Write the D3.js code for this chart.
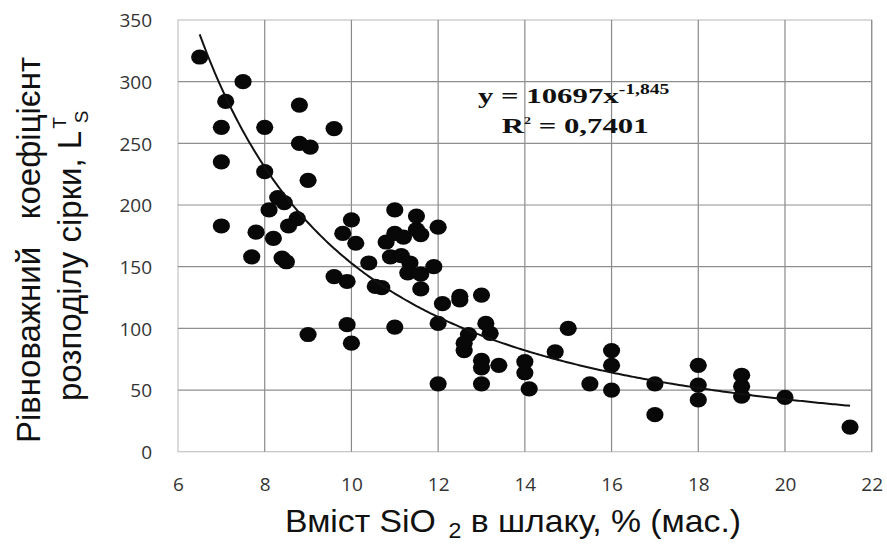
<!DOCTYPE html>
<html>
<head>
<meta charset="utf-8">
<script src="https://cdn.jsdelivr.net/npm/d3@7"></script>
<style>
  html, body { margin: 0; padding: 0; background: #fff; }
  svg { display: block; }
</style>
</head>
<body>
<svg id="chart" width="887" height="545"></svg>
<script>
// SiO2 content in slag, % (mass)
const sio2 = [
  6.5, 7.5, 7.1, 7.0, 8.0, 8.8, 9.6, 8.8, 9.05, 7.0,
  8.0, 9.0, 8.3, 8.45, 8.1, 8.75, 8.55, 7.0, 7.8, 8.2,
  7.7, 8.4, 8.5, 9.6, 9.9, 10.55, 10.7, 10.0, 9.8, 10.1,
  10.4, 11.0, 11.5, 12.0, 11.0, 11.2, 11.5, 11.6, 10.8, 10.9,
  11.15, 11.35, 11.3, 11.6, 11.9, 11.6, 12.1, 12.5, 12.5, 13.0,
  12.0, 13.1, 13.2, 12.7, 12.6, 12.6, 13.0, 13.0, 13.4, 12.0,
  13.0, 9.9, 10.0, 11.0, 9.0, 15.0, 14.7, 14.0, 14.0, 14.1,
  15.5, 16.0, 16.0, 16.0, 17.0, 17.0, 18.0, 18.0, 18.0, 19.0,
  19.0, 19.0, 20.0, 21.5
];
// Equilibrium sulphur distribution coefficient
const ls = [
  320, 300, 284, 263, 263, 281, 262, 250, 247, 235,
  227, 220, 206, 202, 196, 189, 183, 183, 178, 173,
  158, 157, 154, 142, 138, 134, 133, 188, 177, 169,
  153, 196, 191, 182, 177, 174, 180, 176, 170, 158,
  159, 153, 145, 144, 150, 132, 120, 126, 123, 127,
  104, 104, 96, 95, 88, 82, 74, 68, 70, 55,
  55, 103, 88, 101, 95, 100, 81, 73, 64, 51,
  55, 82, 70, 50, 55, 30, 70, 54, 42, 62,
  53, 45, 44, 20
];

const xTicks = [6, 8, 10, 12, 14, 16, 18, 20, 22];
const yTicks = [0, 50, 100, 150, 200, 250, 300, 350];

// power-law trend: y = a * x^b
const fitA = 10697;
const fitB = -1.845;
const fitR2 = "0,7401";
const fitRange = [6.5, 21.5];

const svg = d3.select("#chart");

const x = d3.scaleLinear().domain([6, 22]).range([178, 871.7]);
const y = d3.scaleLinear().domain([0, 350]).range([451.7, 20]);

// plot frame
svg.append("rect")
  .attr("x", x(6)).attr("y", y(350))
  .attr("width", x(22) - x(6)).attr("height", y(0) - y(350))
  .attr("fill", "none").attr("stroke", "#c4c4c4").attr("stroke-width", 1.2);

// grid lines
svg.append("g").selectAll("line").data(xTicks.filter(d => d > 6)).join("line")
  .attr("x1", d => x(d)).attr("x2", d => x(d))
  .attr("y1", y(350)).attr("y2", y(0))
  .attr("stroke", "#8a8a8a").attr("stroke-width", 1.2);
svg.append("g").selectAll("line").data(yTicks.filter(d => d > 0 && d < 350)).join("line")
  .attr("x1", x(6)).attr("x2", x(22))
  .attr("y1", d => y(d)).attr("y2", d => y(d))
  .attr("stroke", "#8f8f8f").attr("stroke-width", 1.2);

// axes (labels only)
const yAxis = svg.append("g").attr("transform", "translate(152,0)")
  .call(d3.axisLeft(y).tickValues(yTicks).tickSize(0).tickPadding(0));
yAxis.select(".domain").remove();
yAxis.selectAll("text")
  .attr("font-family", "'Open Sans', sans-serif").attr("font-size", 19)
  .attr("fill", "#333").attr("dy", "0.36em");

const xAxis = svg.append("g").attr("transform", "translate(0,477.5)")
  .call(d3.axisBottom(x).tickValues(xTicks).tickSize(0).tickPadding(0));
xAxis.select(".domain").remove();
xAxis.selectAll("text")
  .attr("font-family", "'Open Sans', sans-serif").attr("font-size", 19)
  .attr("fill", "#333").attr("dy", "0.71em");

// data points
svg.append("g").selectAll("ellipse").data(sio2.map((v, i) => [v, ls[i]])).join("ellipse")
  .attr("cx", d => x(d[0])).attr("cy", d => y(d[1]))
  .attr("rx", 8.6).attr("ry", 7.6)
  .attr("fill", "#080808");

// trend line
const curve = d3.range(fitRange[0], fitRange[1] + 0.001, 0.05).map(v => [v, fitA * Math.pow(v, fitB)]);
svg.append("path")
  .datum(curve)
  .attr("fill", "none").attr("stroke", "#111").attr("stroke-width", 2)
  .attr("d", d3.line().x(d => x(d[0])).y(d => y(d[1])));

// trend equation
const eq = svg.append("g").attr("transform", "translate(478,103.3) scale(1.4,1)")
  .attr("font-family", "'Liberation Serif', 'Times New Roman', serif")
  .attr("font-weight", "bold").attr("fill", "#111");
const eq1 = eq.append("text").attr("x", 0).attr("y", 0).attr("font-size", 22);
eq1.append("tspan").text("y = " + fitA + "x");
eq1.append("tspan").attr("font-size", 14).attr("dy", -9).text(String(fitB).replace(".", ","));
const eq2 = eq.append("text").attr("x", 17).attr("y", 30).attr("font-size", 22);
eq2.append("tspan").text("R");
eq2.append("tspan").attr("font-size", 10).attr("dy", -9).text("2");
eq2.append("tspan").attr("dy", 9).text(" = " + fitR2);

// axis titles
svg.append("text")
  .attr("x", 285).attr("y", 532)
  .attr("font-family", "'Liberation Sans', Arial, sans-serif").attr("font-size", 32)
  .attr("fill", "#111")
  .attr("textLength", 456).attr("lengthAdjust", "spacingAndGlyphs")
  .call(t => {
    t.append("tspan").text("Вміст SiO");
    t.append("tspan").attr("font-size", 22).attr("dx", 12).attr("dy", 6).text("2");
    t.append("tspan").attr("font-size", 32).attr("dy", -6).text(" в шлаку, % (мас.)");
  });

const yTitle = svg.append("g")
  .attr("font-family", "'Liberation Sans', Arial, sans-serif").attr("fill", "#111");
yTitle.append("text")
  .attr("transform", "translate(40,443) rotate(-90)")
  .attr("font-size", 33)
  .attr("xml:space", "preserve")
  .text("Рівноважний   коефіцієнт");
yTitle.append("text")
  .attr("transform", "translate(81,401) rotate(-90)")
  .attr("font-size", 33)
  .call(t => {
    t.append("tspan").text("розподілу сірки, L");
    t.append("tspan").attr("font-size", 19).attr("dx", 2).attr("dy", -15).text("T");
    t.append("tspan").attr("font-size", 19).attr("dx", -6).attr("dy", 22).text("S");
  });
</script>
</body>
</html>
